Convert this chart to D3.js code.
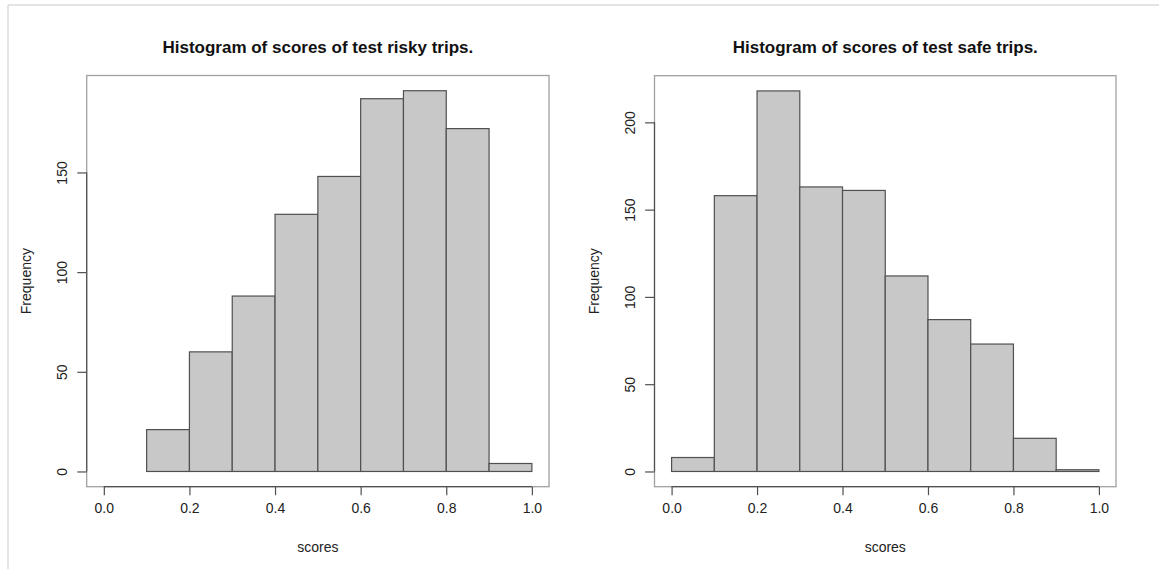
<!DOCTYPE html>
<html>
<head>
<meta charset="utf-8">
<script src="https://cdn.jsdelivr.net/npm/d3@7"></script>
<style>
  html, body { margin: 0; padding: 0; background: #fff; }
  svg { display: block; font-family: "Liberation Sans", Arial, Helvetica, sans-serif; }
</style>
</head>
<body>
<svg id="chart" width="1159" height="569"></svg>
<script>
// Histogram bin edges (shared by both panels)
const binStarts = [0.0, 0.1, 0.2, 0.3, 0.4, 0.5, 0.6, 0.7, 0.8, 0.9];
const binWidth = 0.1;

// Counts per bin
const riskyCounts = [0, 21, 60, 88, 129, 148, 187, 191, 172, 4];
const safeCounts  = [8, 158, 218, 163, 161, 112, 87, 73, 19, 1];

// Axis ticks
const xTicks = [0.0, 0.2, 0.4, 0.6, 0.8, 1.0];
const riskyYTicks = [0, 50, 100, 150];
const safeYTicks = [0, 50, 100, 150, 200];

const titles = ["Histogram of scores of test risky trips.", "Histogram of scores of test safe trips."];
const xLabel = "scores";
const yLabel = "Frequency";

const svg = d3.select("#chart");

// light outer frame
svg.append("line").attr("x1", 8).attr("x2", 1159).attr("y1", 5).attr("y2", 5)
  .attr("stroke", "#e3e3e3").attr("stroke-width", 2);
svg.append("line").attr("x1", 8).attr("x2", 8).attr("y1", 5).attr("y2", 569)
  .attr("stroke", "#e3e3e3").attr("stroke-width", 2);

const panels = [
  { counts: riskyCounts, yTicks: riskyYTicks, title: titles[0],
    box: { left: 86.7, right: 549, top: 75.5, bottom: 486.7 } },
  { counts: safeCounts, yTicks: safeYTicks, title: titles[1],
    box: { left: 654.5, right: 1116, top: 75.7, bottom: 486.7 } }
];

panels.forEach(p => {
  const b = p.box;
  const maxCount = d3.max(p.counts);
  const x = d3.scaleLinear().domain([-0.04, 1.04]).range([b.left, b.right]);
  const y = d3.scaleLinear().domain([-0.04 * maxCount, 1.04 * maxCount]).range([b.bottom, b.top]);
  const g = svg.append("g");

  // plot frame
  g.append("rect")
    .attr("x", b.left).attr("y", b.top)
    .attr("width", b.right - b.left).attr("height", b.bottom - b.top)
    .attr("fill", "none").attr("stroke", "#a0a0a0").attr("stroke-width", 1.3);

  // bars
  const bins = binStarts.map((s, i) => ({ x0: s, x1: s + binWidth, n: p.counts[i] }))
    .filter(d => d.n > 0);
  g.selectAll("rect.bar").data(bins).enter().append("rect")
    .attr("class", "bar")
    .attr("x", d => x(d.x0))
    .attr("y", d => y(d.n))
    .attr("width", d => x(d.x1) - x(d.x0))
    .attr("height", d => y(0) - y(d.n))
    .attr("fill", "#c8c8c8")
    .attr("stroke", "#505050")
    .attr("stroke-width", 1.2);

  // x axis
  const xa = g.append("g").attr("transform", `translate(0,${b.bottom})`)
    .call(d3.axisBottom(x).tickValues(xTicks).tickFormat(d3.format(".1f")).tickSize(8.5).tickPadding(8));
  xa.select(".domain").remove();
  xa.append("line").attr("x1", x(xTicks[0])).attr("x2", x(xTicks[xTicks.length - 1]))
    .attr("stroke", "#505050").attr("stroke-width", 1.2);
  xa.selectAll(".tick line").attr("stroke", "#505050").attr("stroke-width", 1.2);
  xa.selectAll(".tick text").attr("font-size", 14).attr("fill", "#222")
    .attr("font-family", "'Liberation Sans', Arial, sans-serif");

  // y axis with vertical labels
  const ya = g.append("g").attr("transform", `translate(${b.left},0)`)
    .call(d3.axisLeft(y).tickValues(p.yTicks).tickFormat(d3.format("d")).tickSize(9.4));
  ya.select(".domain").remove();
  ya.append("line").attr("y1", y(p.yTicks[0])).attr("y2", y(p.yTicks[p.yTicks.length - 1]))
    .attr("stroke", "#505050").attr("stroke-width", 1.2);
  ya.selectAll(".tick line").attr("stroke", "#505050").attr("stroke-width", 1.2);
  ya.selectAll(".tick text")
    .attr("font-size", 14).attr("fill", "#222")
    .attr("font-family", "'Liberation Sans', Arial, sans-serif")
    .attr("x", null).attr("dy", null)
    .attr("text-anchor", "middle")
    .attr("transform", "translate(-20,0) rotate(-90)");

  const cx = (b.left + b.right) / 2;
  const cy = (b.top + b.bottom) / 2;

  // title
  g.append("text").attr("x", cx).attr("y", 53)
    .attr("text-anchor", "middle").attr("font-size", 17).attr("font-weight", "bold")
    .attr("fill", "#111").text(p.title);

  // axis titles
  g.append("text").attr("x", cx).attr("y", 552)
    .attr("text-anchor", "middle").attr("font-size", 14).attr("fill", "#222").text(xLabel);
  g.append("text")
    .attr("transform", `translate(${b.left - 55.5},${cy}) rotate(-90)`)
    .attr("text-anchor", "middle").attr("font-size", 14).attr("fill", "#222").text(yLabel);
});
</script>
</body>
</html>
